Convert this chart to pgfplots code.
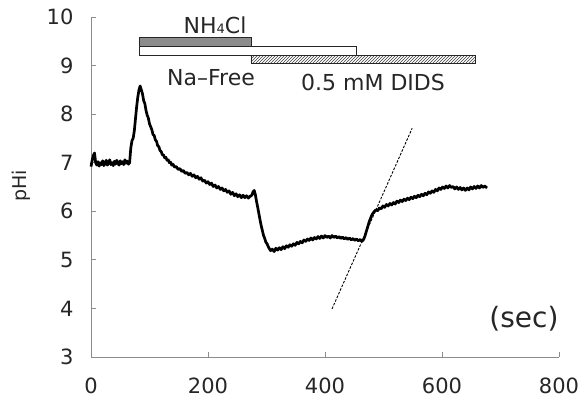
\documentclass[border=0pt]{standalone}
\usepackage{fontspec}
\setmainfont{DejaVu Sans}
\usepackage{pgfplots}
\pgfplotsset{compat=1.18}
\usetikzlibrary{patterns}
\begin{document}
\begin{tikzpicture}[x=1pt,y=1pt]
\useasboundingbox (0,0) rectangle (581,403);
\begin{axis}[
 at={(91pt,46pt)}, anchor=south west,
 scale only axis, width=468pt, height=340pt,
 xmin=0,xmax=800,ymin=3,ymax=10,
 axis x line*=bottom, axis y line*=left,
 axis line style={black!45, line width=0.8pt, -},
 xtick={0,200,...,800}, ytick={3,...,10},
 tick align=inside, major tick length=5pt,
 tick style={black!45, line width=0.8pt},
 ticklabel style={font=\fontsize{21}{24}\selectfont, text=black!85},
 /pgf/number format/assume math mode=true,
 xticklabel style={yshift=-17pt},
 yticklabel style={xshift=-14pt},
 clip=false,
]
% treatment bars
\addplot[fill=white, draw=black!85, line width=0.9pt] coordinates {(82,9.21) (453,9.21) (453,9.385) (82,9.385)} -- cycle;
\addplot[fill=black!45, draw=black!85, line width=0.9pt] coordinates {(82,9.385) (273.5,9.385) (273.5,9.58) (82,9.58)} -- cycle;
\addplot[pattern=north east lines, pattern color=black!75, draw=black!85, line width=0.9pt] coordinates {(273.5,9.04) (658,9.04) (658,9.21) (273.5,9.21)} -- cycle;
% slope line
\addplot[black, line width=0.9pt, dash pattern=on 2.5pt off 1.5pt] coordinates {(412,3.99) (549,7.71)};
% trace
\addplot[black, line width=2.7pt, line join=round] table {
x y
0 6.92
2 7.05
4 7.15
6 7.20
8 7.00
10 6.95
12 7.02
14 6.93
16 7.00
18 6.96
20 7.04
22 6.94
24 6.98
26 7.05
28 6.95
30 7.00
32 7.06
34 6.96
36 7.00
38 6.94
40 7.03
42 6.97
44 7.05
46 6.99
48 6.95
50 7.04
52 6.98
54 7.02
56 6.96
58 7.06
60 6.99
62 7.03
64 6.97
66 7.00
68 7.30
70 7.45
72 7.50
74 7.65
76 7.90
78 8.15
80 8.35
82 8.50
84 8.58
86 8.50
88 8.42
90 8.28
92 8.22
94 8.08
96 7.98
98 7.92
100 7.80
102 7.74
104 7.68
106 7.58
108 7.56
110 7.47
112 7.44
114 7.35
116 7.33
118 7.25
120 7.23
122 7.16
124 7.16
126 7.10
128 7.11
130 7.05
132 7.06
134 7.00
136 7.01
138 6.95
140 6.97
143 6.91
146 6.92
149 6.86
152 6.88
155 6.82
158 6.84
161 6.78
164 6.80
167 6.75
170 6.78
173 6.72
176 6.75
179 6.69
182 6.72
185 6.66
188 6.69
191 6.62
194 6.64
197 6.58
200 6.61
203 6.55
206 6.58
209 6.51
212 6.54
215 6.48
218 6.51
221 6.45
224 6.48
227 6.42
230 6.45
233 6.39
236 6.42
239 6.35
242 6.39
245 6.32
248 6.36
251 6.30
254 6.34
257 6.28
260 6.33
263 6.28
266 6.32
269 6.27
272 6.31
275 6.33
277 6.40
279 6.43
281 6.34
283 6.20
285 6.08
287 5.95
289 5.82
291 5.70
293 5.60
295 5.50
297 5.44
299 5.36
301 5.33
303 5.27
305 5.23
307 5.19
310 5.22
313 5.17
316 5.24
319 5.20
322 5.25
325 5.21
328 5.27
331 5.23
334 5.29
337 5.26
340 5.31
343 5.28
346 5.33
349 5.30
352 5.36
355 5.33
358 5.38
361 5.35
364 5.41
367 5.38
370 5.43
373 5.40
376 5.45
379 5.41
382 5.46
385 5.43
388 5.48
391 5.44
394 5.49
397 5.45
400 5.50
403 5.46
406 5.49
409 5.45
412 5.50
415 5.46
418 5.49
421 5.45
424 5.48
427 5.44
430 5.47
433 5.43
436 5.46
439 5.42
442 5.45
445 5.41
448 5.44
451 5.40
454 5.43
457 5.39
460 5.42
463 5.38
466 5.42
468 5.48
470 5.56
472 5.64
474 5.72
476 5.80
478 5.86
480 5.92
482 5.96
484 5.99
487 6.03
490 6.01
493 6.07
496 6.05
499 6.11
502 6.08
505 6.14
508 6.11
511 6.16
514 6.13
517 6.18
520 6.15
523 6.21
526 6.18
529 6.23
532 6.20
535 6.25
538 6.22
541 6.27
544 6.24
547 6.29
550 6.26
553 6.31
556 6.28
559 6.33
562 6.30
565 6.35
568 6.32
571 6.37
574 6.34
577 6.40
580 6.37
583 6.42
586 6.39
589 6.45
592 6.42
595 6.48
598 6.45
601 6.50
604 6.47
607 6.52
610 6.48
613 6.53
616 6.49
619 6.51
622 6.46
625 6.50
628 6.45
631 6.49
634 6.44
637 6.48
640 6.43
643 6.48
646 6.44
649 6.50
652 6.46
655 6.51
658 6.47
661 6.52
664 6.48
667 6.53
670 6.49
673 6.52
677 6.48
};
\end{axis}
\node[rotate=90, font=\fontsize{19}{22}\selectfont, text=black!85] at (21,217) {pHi};
\node[font=\fontsize{28}{32}\selectfont, text=black!85] at (524,84) {(sec)};
\node[font=\fontsize{22}{26}\selectfont, text=black!85] at (215,378) {NH{\fontsize{13}{13}\selectfont 4}Cl};
\node[font=\fontsize{22}{26}\selectfont, text=black!85] at (211,325) {Na--Free};
\node[font=\fontsize{22}{26}\selectfont, text=black!85] at (373,320) {0.5 mM DIDS};
\end{tikzpicture}
\end{document}
